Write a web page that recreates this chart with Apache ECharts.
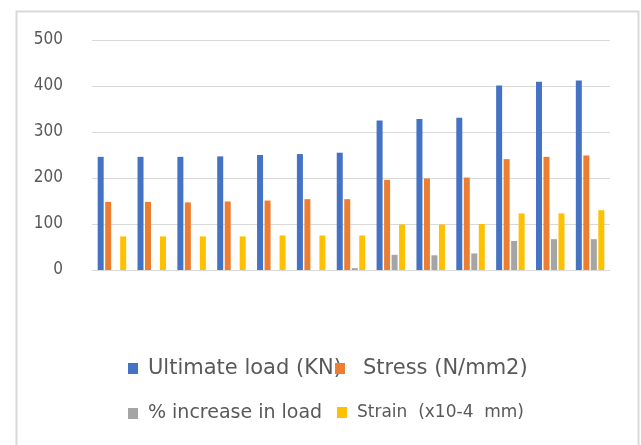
<!DOCTYPE html>
<html>
<head>
<meta charset="utf-8">
<script src="https://cdn.jsdelivr.net/npm/echarts@6/dist/echarts.min.js"></script>
<style>
html,body{margin:0;padding:0;background:#fff;}
#c{width:641px;height:445px;}
</style>
</head>
<body>
<div id="c"></div>
<script>
const categories = ['1','2','3','4','5','6','7','8','9','10','11','12','13'];
const ultimateLoad = [246, 246, 246, 247, 250, 252, 255, 325, 328, 331, 401, 409, 412];
const stress = [148, 148, 147, 149, 151, 154, 154, 196, 199, 201, 241, 246, 249];
const increaseInLoad = [0, 0, 0, 0, 0, 0, 4, 33, 32, 36, 63, 67, 67];
const strain = [73, 73, 73, 73, 75, 75, 75, 99, 99, 100, 123, 123, 130];
const yTicks = [0, 100, 200, 300, 400, 500];

const names = ['Ultimate load (KN)', 'Stress (N/mm2)', '% increase in load', 'Strain  (x10-4  mm)'];
const colors = ['#4472C4', '#ED7D31', '#A5A5A5', '#FFC000'];
const values = [ultimateLoad, stress, increaseInLoad, strain];

const chart = echarts.init(document.getElementById('c'), null, {renderer: 'canvas'});

function leg(name, left, top, size, padLeft, padBottom) {
  return {
    data: [name], left: left, top: top, orient: 'horizontal',
    itemWidth: 10, itemHeight: 11, itemGap: 0,
    icon: 'rect', padding: 0, selectedMode: false,
    textStyle: {color: '#595959', fontSize: size, fontFamily: 'DejaVu Sans',
                padding: [0, 0, padBottom, padLeft]}
  };
}

chart.setOption({
  animation: false,
  backgroundColor: '#fff',
  graphic: [{
    type: 'rect', left: 14, top: 9, silent: true, z: -1,
    shape: {x: 0, y: 0, width: 622, height: 460},
    style: {fill: 'none', stroke: '#d9d9d9', lineWidth: 2}
  }],
  grid: {left: 92, right: 31, top: 40, bottom: 175, containLabel: false},
  legend: [
    leg(names[0], 128, 358, 21, 5, 0),
    leg(names[1], 335, 358, 21, 13, 0),
    leg(names[2], 128, 404, 19, 5, 22),
    leg(names[3], 337, 404, 17, 5, 22)
  ],
  xAxis: {
    type: 'category', data: categories,
    axisLine: {show: true, lineStyle: {color: '#d9d9d9', width: 1}},
    axisTick: {show: false}, axisLabel: {show: false}
  },
  yAxis: {
    type: 'value', min: yTicks[0], max: yTicks[yTicks.length - 1], interval: 100,
    axisLine: {show: false}, axisTick: {show: false},
    axisLabel: {color: '#595959', fontSize: 17, fontFamily: 'DejaVu Sans Condensed, DejaVu Sans', margin: 29},
    splitLine: {lineStyle: {color: '#d9d9d9', width: 1}}
  },
  series: values.map((v, i) => ({
    name: names[i], type: 'bar', data: v,
    barWidth: 6, barGap: '25%',
    itemStyle: {color: colors[i]}
  }))
});
</script>
</body>
</html>
